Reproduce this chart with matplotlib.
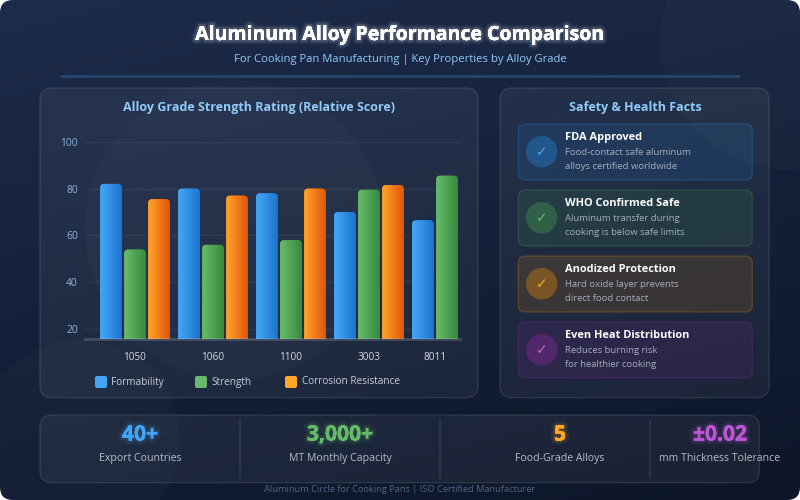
import numpy as np
import matplotlib
matplotlib.use('Agg')
import matplotlib.pyplot as plt
from matplotlib.patches import FancyBboxPatch, Circle
from matplotlib.colors import to_rgb
import matplotlib.patheffects as pe

# ---------------- data ----------------
alloys = ['1050', '1060', '1100', '3003', '8011']
series_names = ['Formability', 'Strength', 'Corrosion Resistance']
formability = [82, 80, 78, 70, 66.5]
strength = [54, 56, 58, 79.5, 85.5]
corrosion = [75.5, 77, 80, 81.5, None]
y_ticks = [20, 40, 60, 80, 100]

fact_titles = ['FDA Approved', 'WHO Confirmed Safe', 'Anodized Protection', 'Even Heat Distribution']
fact_lines = [
    ['Food-contact safe aluminum', 'alloys certified worldwide'],
    ['Aluminum transfer during', 'cooking is below safe limits'],
    ['Hard oxide layer prevents', 'direct food contact'],
    ['Reduces burning risk', 'for healthier cooking'],
]
stat_values = ['40+', '3,000+', '5', '\u00b10.02']
stat_labels = ['Export Countries', 'MT Monthly Capacity', 'Food-Grade Alloys', 'mm Thickness Tolerance']

title = 'Aluminum Alloy Performance Comparison'
subtitle = 'For Cooking Pan Manufacturing | Key Properties by Alloy Grade'
chart_title = 'Alloy Grade Strength Rating (Relative Score)'
facts_title = 'Safety & Health Facts'
footer = 'Aluminum Circle for Cooking Pans | ISO Certified Manufacturer'

# ---------------- style ----------------
W, H = 800, 500
plt.rcParams['font.family'] = ['Open Sans', 'DejaVu Sans']


def P(px):
    return px * 0.72


fig = plt.figure(figsize=(8, 5), dpi=100, facecolor='white')
bg = fig.add_axes([0, 0, 1, 1])
bg.set_xlim(0, W)
bg.set_ylim(H, 0)
bg.axis('off')

# background gradient with rounded frame
yy, xx = np.mgrid[0:H:2, 0:W:2]
t = 0.72 * yy / H + 0.28 * xx / W
c1 = np.array(to_rgb('#1d2c4c'))
c2 = np.array(to_rgb('#0d1628'))
img = c1 + (c2 - c1) * t[..., None]
frame = FancyBboxPatch((0, 0), W, H, boxstyle='round,pad=0,rounding_size=13',
                       fc='none', ec='none')
bg.add_patch(frame)
im = bg.imshow(img, extent=(0, W, H, 0), aspect='auto', zorder=0, interpolation='bilinear')
im.set_clip_path(frame)

for (cx, cy, r) in [(80, 440, 100), (235, 230, 150), (790, 40, 130)]:
    c = Circle((cx, cy), r, fc=(1, 1, 1, 0.018), ec='none', zorder=0.5)
    bg.add_patch(c)
    c.set_clip_path(frame)

bg.set_xlim(0, W)
bg.set_ylim(H, 0)

# header
bg.text(400, 35, title, ha='center', va='center', fontsize=P(19.5), fontweight='bold',
        color='white', zorder=5,
        path_effects=[pe.withStroke(linewidth=6, foreground=(1, 1, 1, 0.07)),
                      pe.withStroke(linewidth=3, foreground=(1, 1, 1, 0.15)),
                      pe.Normal()])
bg.text(400, 59.5, subtitle, ha='center', va='center', fontsize=P(11.3), color='#90caf9', zorder=5)
bg.plot([60, 740], [75.7, 75.7], color='#2a4770', lw=1.8, zorder=3, solid_capstyle='butt')


def panel(x, y, w, h, r=12, fc=(1, 1, 1, 0.05), ec=(1, 1, 1, 0.1), lw=1, z=1):
    p = FancyBboxPatch((x, y), w, h, boxstyle=f'round,pad=0,rounding_size={r}',
                       fc=fc, ec=ec, lw=lw, zorder=z)
    bg.add_patch(p)
    return p


panel(40, 88, 438, 309.7)
panel(500, 88, 269, 309.7)
panel(40, 415, 719.3, 67.7)

# ---------------- bar chart ----------------
ax_l, ax_r, ax_t, ax_b = 85, 460, 141.7, 339.3
ax = fig.add_axes([ax_l / W, 1 - ax_b / H, (ax_r - ax_l) / W, (ax_b - ax_t) / H])
ax.set_facecolor('none')
ax.set_zorder(2)

xmin, xmax = -0.641, 4.167
ymin, ymax = 15.7, 100
ax.set_xlim(xmin, xmax)
ax.set_ylim(ymin, ymax)

series = [formability, strength, corrosion]
grads = [('#45a8f6', '#1b74cf'), ('#68bd6c', '#378a3b'), ('#ffa52a', '#e0550a')]
legend_colors = ['#42a5f5', '#66bb6a', '#ffa726']
step = 0.308
bw = 0.278
px_x = (ax_r - ax_l) / (xmax - xmin)
px_y = (ax_b - ax_t) / (ymax - ymin)
asp = px_x / px_y
rx = 4.0 / px_x

xs = np.arange(len(alloys))
for si, vals in enumerate(series):
    cl = np.array(to_rgb(grads[si][0]))
    cr = np.array(to_rgb(grads[si][1]))
    grad = (cl + (cr - cl) * np.linspace(0, 1, 64)[:, None])[None, :, :]
    for ci, v in enumerate(vals):
        if v is None:
            continue
        x0 = xs[ci] + (si - 1) * step - bw / 2
        base = ymin - 6
        patch = FancyBboxPatch((x0, base), bw, v - base,
                               boxstyle=f'round,pad=0,rounding_size={rx}',
                               mutation_aspect=asp, fc=grads[si][1], ec='none', zorder=2)
        ax.add_patch(patch)
        gi = ax.imshow(grad, extent=(x0, x0 + bw, base, v), aspect='auto',
                       interpolation='bilinear', zorder=2.1)
        gi.set_clip_path(patch)

ax.set_xlim(xmin, xmax)
ax.set_ylim(ymin, ymax)

# tick positions: centre of the drawn bars of each alloy
tick_pos = []
for ci in range(len(alloys)):
    offs = [(si - 1) * step for si, vals in enumerate(series) if vals[ci] is not None]
    tick_pos.append(xs[ci] + np.mean(offs))
ax.set_xticks(tick_pos)
ax.set_xticklabels(alloys)
ax.set_yticks(y_ticks)
ax.tick_params(axis='x', length=0, pad=P(13), labelsize=P(10), labelcolor='#d3d9e2')
ax.tick_params(axis='y', length=0, pad=P(7), labelsize=P(10.3), labelcolor='#8db3e0')
ax.set_axisbelow(True)
ax.grid(axis='y', color='white', alpha=0.06, lw=1)
for s in ['top', 'right', 'left']:
    ax.spines[s].set_visible(False)
ax.spines['bottom'].set_color((1, 1, 1, 0.16))
ax.spines['bottom'].set_linewidth(2)

bg.text(259, 107, chart_title, ha='center', va='center', fontsize=P(12.5),
        fontweight='bold', color='#90caf9', zorder=5)

# legend
leg_x = [95, 195, 285]
for i, name in enumerate(series_names):
    panel(leg_x[i], 376, 12, 12, r=2, fc=legend_colors[i], ec='none', z=5)
    bg.text(leg_x[i] + 16.5, 382, name, ha='left', va='center', fontsize=P(10),
            color='#c5cdd8', zorder=5)

# ---------------- facts panel ----------------
bg.text(635, 107, facts_title, ha='center', va='center', fontsize=P(12.5),
        fontweight='bold', color='#90caf9', zorder=5)
card_base = ['#2196f3', '#4caf50', '#ff9800', '#9c27b0']
check_cols = ['#42a5f5', '#66bb6a', '#ffa726', '#ba68c8']
card_tops = [124, 190, 256, 322]
for i in range(4):
    top = card_tops[i]
    base = to_rgb(card_base[i])
    panel(518.3, top, 234, 56, r=7, fc=(*base, 0.12), ec=(*base, 0.22), lw=1, z=2)
    bg.add_patch(Circle((541.7, top + 27.7), 15.7, fc=(*base, 0.32), ec='none', zorder=3))
    bg.text(541.7, top + 27.7, '\u2713', ha='center', va='center', fontsize=P(14),
            color=check_cols[i], zorder=4, family=['DejaVu Sans'])
    bg.text(565, top + 13.3, fact_titles[i], ha='left', va='center', fontsize=P(11),
            fontweight='bold', color='white', zorder=4)
    for j, line in enumerate(fact_lines[i]):
        bg.text(565, top + 28.7 + 14 * j, line, ha='left', va='center', fontsize=P(9.5),
                color='#a3adbb', zorder=4)

# ---------------- stats panel ----------------
stat_x = [140, 340, 560, 720]
stat_cols = ['#42a5f5', '#66bb6a', '#ffa726', '#ba55d3']
for i in range(4):
    col = to_rgb(stat_cols[i])
    bg.text(stat_x[i], 435, stat_values[i], ha='center', va='center', fontsize=P(21),
            fontweight='bold', color=stat_cols[i], zorder=5,
            path_effects=[pe.withStroke(linewidth=6, foreground=(*col, 0.07)),
                          pe.withStroke(linewidth=3, foreground=(*col, 0.14)),
                          pe.Normal()])
    bg.text(stat_x[i], 458.3, stat_labels[i], ha='center', va='center', fontsize=P(10.5),
            color='#b4bcc8', zorder=5)
for dx in [240, 440, 650]:
    bg.plot([dx, dx], [420, 478], color=(1, 1, 1, 0.08), lw=1.2, zorder=3)

bg.text(400, 489, footer, ha='center', va='center', fontsize=P(9.3), color='#4d6384', zorder=5)

fig.savefig('out.png', dpi=100, facecolor='white')
